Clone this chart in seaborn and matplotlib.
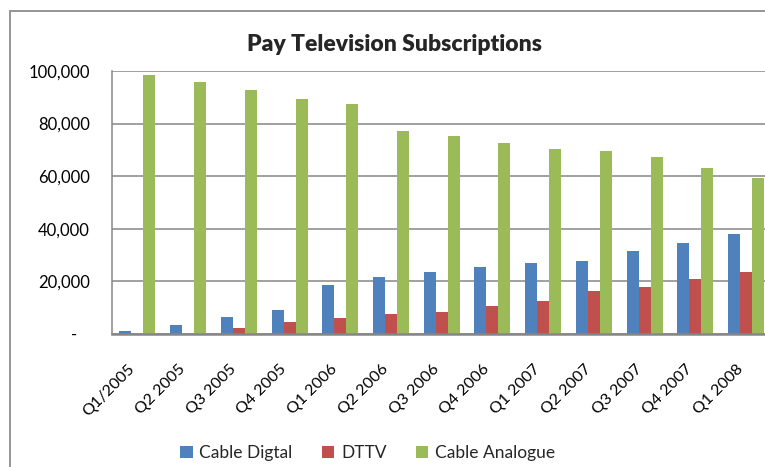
import numpy as np
import pandas as pd
import matplotlib.pyplot as plt
import seaborn as sns
from matplotlib.patches import Rectangle
from matplotlib.ticker import FuncFormatter

# Data
quarters = ['Q1/2005', 'Q2 2005', 'Q3 2005', 'Q4 2005',
            'Q1 2006', 'Q2 2006', 'Q3 2006', 'Q4 2006',
            'Q1 2007', 'Q2 2007', 'Q3 2007', 'Q4 2007', 'Q1 2008']
cable_digital = [1300, 3500, 6600, 9200, 18700, 21800, 23700, 25600,
                 27100, 27900, 31700, 34700, 38100]
dttv = [0, 0, 2400, 4700, 6200, 7700, 8500, 10800,
        12700, 16500, 18000, 21000, 23700]
cable_analogue = [98500, 95800, 92800, 89400, 87500, 77200, 75300, 72600,
                  70300, 69600, 67300, 63100, 59300]
series_names = ['Cable Digtal', 'DTTV', 'Cable Analogue']
series_colors = ['#4F81BD', '#C0504D', '#9BBB59']

sns.set_theme(style='white')
plt.rcParams['font.family'] = ['Lato', 'DejaVu Sans']

df = pd.DataFrame({
    'quarter': quarters * 3,
    'series': np.repeat(series_names, len(quarters)),
    'subs': cable_digital + dttv + cable_analogue,
})

fig = plt.figure(figsize=(7.65, 4.67), dpi=100)
ax = fig.add_axes([0.1464, 0.2848, 0.862, 0.5632])

sns.barplot(data=df, x='quarter', y='subs', hue='series', order=quarters,
            hue_order=series_names, palette=series_colors, width=0.71,
            saturation=1, linewidth=0, errorbar=None, ax=ax)

grid_col = '#868686'
ax.set_ylim(0, 100000)
ax.set_xlim(-0.5, 12.5)
ax.set_yticks(np.arange(0, 100001, 20000))
# Excel accounting style: zero shown as a dash, set in from the right
ax.yaxis.set_major_formatter(FuncFormatter(lambda v, p: '-   ' if v == 0 else f'{int(v):,}'))
ax.grid(axis='y', color=grid_col, linewidth=1.1)
ax.set_axisbelow(True)
ax.set_xlabel('')
ax.set_ylabel('')

for side in ['top', 'right']:
    ax.spines[side].set_visible(False)
ax.spines['left'].set_color(grid_col)
ax.spines['left'].set_linewidth(1.1)
ax.spines['bottom'].set_color(grid_col)
ax.spines['bottom'].set_linewidth(1.8)

ax.tick_params(axis='y', length=0, pad=16, labelsize=12, labelcolor='black')
ax.tick_params(axis='x', length=0, pad=20, labelsize=11.5, labelcolor='black')
plt.setp(ax.get_xticklabels(), rotation=45, ha='right')

# Legend at the bottom with square markers
handles, labels = ax.get_legend_handles_labels()
ax.legend_.remove()
fig.legend(handles, labels, loc='center', bbox_to_anchor=(0.481, 0.030),
           ncol=3, frameon=False, fontsize=12.5, handlelength=0.7,
           handleheight=0.7, handletextpad=0.4, columnspacing=1.7)

fig.text(0.516, 0.891, 'Pay Television Subscriptions', ha='center',
         va='baseline', fontsize=16.5, fontweight='heavy')

# Chart area border (cropped on right and bottom like the reference)
fig.patches.append(Rectangle((0.0131, -0.2), 1.2, 0.9764 + 0.2,
                             transform=fig.transFigure, fill=False,
                             edgecolor='#8c8c8c', linewidth=1.3))

fig.savefig('out.png', dpi=100)
